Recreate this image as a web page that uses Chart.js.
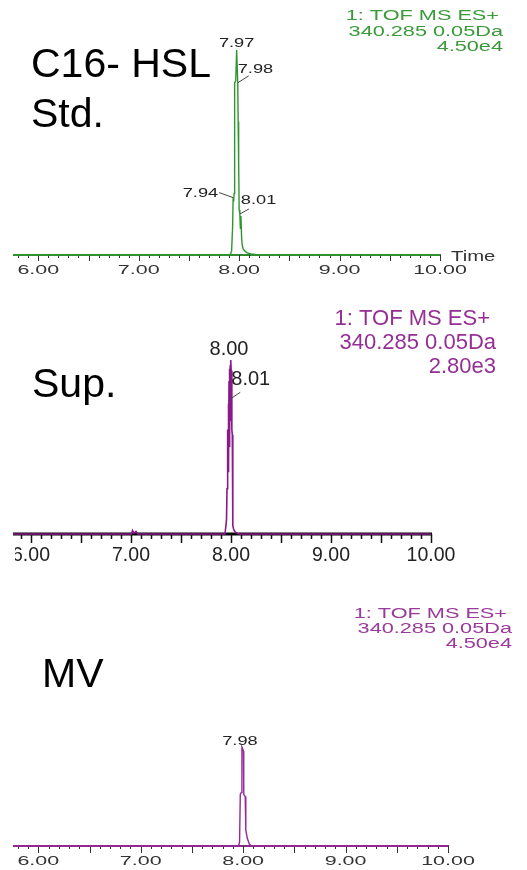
<!DOCTYPE html>
<html>
<head>
<meta charset="utf-8">
<script src="https://cdn.jsdelivr.net/npm/chart.js@4.4.1/dist/chart.umd.min.js"></script>
<style>
  html, body { margin: 0; padding: 0; background: #fff; }
  body { width: 527px; height: 870px; position: relative; overflow: hidden; }
  canvas { position: absolute; left: 0; }
</style>
</head>
<body>
<canvas id="std" width="527" height="290" style="top:0"></canvas>
<canvas id="sup" width="527" height="290" style="top:290px"></canvas>
<canvas id="mv" width="527" height="290" style="top:580px"></canvas>
<script>
'use strict';

// retention time (min) / relative intensity (% of the panel's full scale)
const stdTimes = [5.748, 7.5, 7.91, 7.925, 7.935, 7.94, 7.945, 7.95, 7.955, 7.966, 7.975, 7.986, 7.99,
  7.995, 8.0, 8.007, 8.012, 8.018, 8.024, 8.03, 8.04, 8.055, 8.08, 8.12, 8.2, 10.0];
const stdIntensity = [0, 0, 0, 2, 14, 28, 26, 30, 84, 85, 100, 84, 65,
  45, 22, 20, 13, 19, 9, 5, 3, 2, 1, 0.5, 0, 0];

const supTimes = [5.82, 7.005, 7.015, 7.03, 7.05, 7.07, 7.94, 7.955, 7.96, 7.965, 7.968, 7.971, 7.974,
  7.977, 7.98, 7.983, 7.986, 7.989, 7.992, 7.995, 8.0, 8.003, 8.007, 8.01, 8.013, 8.016, 8.02,
  8.025, 8.032, 8.045, 8.06, 8.08, 10.0];
const supIntensity = [0, 0, 2, 0.5, 1.5, 0, 0, 8, 26, 33, 60, 36, 75,
  40, 88, 50, 95, 55, 97, 65, 100, 92, 94, 60, 57, 30, 5,
  3, 2, 1, 0.5, 0, 0];

const mvTimes = [5.753, 7.955, 7.965, 7.972, 7.982, 7.988, 7.996, 8.003, 8.006, 8.02, 8.026, 8.04, 8.06, 8.085, 10.0];
const mvIntensity = [0, 0, 2, 26, 27, 50, 49, 48, 26, 25, 8, 4, 1, 0, 0];

// peak labels
const stdPeakText = ['7.94', '7.97', '7.98', '8.01'];
const stdPeakTime = [7.94, 7.975, 7.986, 8.007];
const stdPeakLevel = [28, 100, 84, 20];
const supPeakText = ['8.00', '8.01'];
const supPeakTime = [8.0, 8.003];
const supPeakLevel = [100, 78];
const mvPeakText = ['7.98'];
const mvPeakTime = [7.988];
const mvPeakLevel = [50];

// axis
const axisTickValues = [6, 7, 8, 9, 10];
const axisTickLabels = ['6.00', '7.00', '8.00', '9.00', '10.00'];
const headerLines = ['1: TOF MS ES+', '340.285 0.05Da'];
const stdFullScale = '4.50e4';
const supFullScale = '2.80e3';
const mvFullScale = '4.50e4';

const minorTicks = [];
for (let i = 58; i <= 100; i++) minorTicks.push(i / 10);

const FONT = '"Liberation Sans", Arial, sans-serif';

function drawText(ctx, str, x, y, size, sx, align, color) {
  ctx.save();
  ctx.translate(x, y);
  ctx.scale(sx, 1);
  ctx.font = size + 'px ' + FONT;
  ctx.fillStyle = color;
  ctx.textAlign = align;
  ctx.textBaseline = 'alphabetic';
  ctx.fillText(str, 0, 0);
  ctx.restore();
}

const chromPlugin = {
  id: 'chrom',
  beforeDatasetsDraw(chart, args, o) {
    const { ctx, chartArea } = chart;
    const x = chart.scales.x;
    const y0 = chartArea.bottom;
    ctx.save();
    ctx.strokeStyle = o.axisColor;
    ctx.lineWidth = o.axisWidth;
    ctx.beginPath();
    ctx.moveTo(chartArea.left, y0);
    ctx.lineTo(chartArea.right + 1, y0);
    ctx.stroke();

    ctx.strokeStyle = o.tickColor;
    ctx.lineWidth = o.tickWidth;
    ctx.beginPath();
    minorTicks.forEach(v => {
      if (v < x.min || v > x.max + 1e-9) return;
      const px = Math.round(x.getPixelForValue(v)) + 0.5;
      const major = Math.abs(v * 2 - Math.round(v * 2)) < 1e-6;
      ctx.moveTo(px, y0);
      ctx.lineTo(px, y0 + (major ? o.majorLen : o.minorLen));
    });
    ctx.stroke();

    ctx.save();
    ctx.beginPath();
    ctx.rect(o.labelClipLeft, 0, chart.width, chart.height);
    ctx.clip();
    axisTickValues.forEach((v, i) => {
      drawText(ctx, axisTickLabels[i], x.getPixelForValue(v), y0 + o.labelDy,
        o.tickFont, o.tickScale, 'center', o.tickTextColor);
    });
    ctx.restore();
    if (o.timeLabel) {
      drawText(ctx, 'Time', chartArea.right + 11, y0 + 6, o.tickFont + 1, 1.45, 'left', o.tickTextColor);
    }
    ctx.restore();
  },
  afterDatasetsDraw(chart, args, o) {
    const { ctx } = chart;
    const x = chart.scales.x;
    const y = chart.scales.y;
    ctx.save();
    // header block, top right
    const lines = headerLines.concat([o.fullScale]);
    lines.forEach((s, i) => {
      const rx = o.headerRight + (i === 0 ? o.headerFirstShift : 0);
      drawText(ctx, s, rx, o.headerTop + i * o.headerStep, o.headerFont, o.headerScale, 'right', o.textColor);
    });
    // sample name
    o.title.forEach((s, i) => {
      drawText(ctx, s, o.titleX, o.titleY + i * 50, 41, 1, 'left', '#000');
    });
    // peak labels
    o.peakText.forEach((s, i) => {
      const ax = x.getPixelForValue(o.peakTime[i]);
      const ay = y.getPixelForValue(o.peakLevel[i]);
      const l = o.peakLayout[i];
      if (l.lead) {
        ctx.strokeStyle = '#444';
        ctx.lineWidth = 1;
        ctx.beginPath();
        ctx.moveTo(ax, ay);
        ctx.lineTo(ax + l.lead[0], ay + l.lead[1]);
        ctx.stroke();
      }
      drawText(ctx, s, ax + l.dx, ay + l.dy, o.peakFont, o.peakScale, l.align, '#222');
    });
    ctx.restore();
  }
};

function makeChart(id, times, values, color, lineWidth, xMin, padding, opts) {
  return new Chart(document.getElementById(id).getContext('2d'), {
    type: 'line',
    data: {
      datasets: [{
        data: times.map((t, i) => ({ x: t, y: values[i] })),
        borderColor: color,
        borderWidth: lineWidth,
        pointRadius: 0,
        tension: 0,
        clip: false
      }]
    },
    options: {
      responsive: false,
      animation: false,
      devicePixelRatio: 1,
      layout: { padding: padding },
      scales: {
        x: { type: 'linear', min: xMin, max: 10, display: false },
        y: { min: 0, max: 100, display: false }
      },
      plugins: {
        legend: { display: false },
        tooltip: { enabled: false },
        chrom: opts
      }
    },
    plugins: [chromPlugin]
  });
}

makeChart('std', stdTimes, stdIntensity, '#2f962f', 1.4, 5.748,
  { left: 13, right: 87, top: 50, bottom: 35 }, {
    axisColor: '#2f8a2f', axisWidth: 2, tickColor: '#333', tickWidth: 1,
    minorLen: 3, majorLen: 6, labelDy: 19, labelClipLeft: 0,
    tickFont: 13, tickScale: 1.65, tickTextColor: '#333', timeLabel: true,
    fullScale: stdFullScale, headerRight: 503, headerFirstShift: -4, headerTop: 20, headerStep: 15.5,
    headerFont: 14, headerScale: 1.55, textColor: '#3a9a3a',
    title: ['C16- HSL', 'Std.'], titleX: 31, titleY: 77,
    peakText: stdPeakText, peakTime: stdPeakTime, peakLevel: stdPeakLevel,
    peakFont: 13, peakScale: 1.4,
    peakLayout: [
      { dx: -15, dy: -1, align: 'right', lead: [-14, -5] },
      { dx: 0, dy: -3, align: 'center' },
      { dx: 0, dy: -10, align: 'left', lead: [11, -7] },
      { dx: 1, dy: -10, align: 'left', lead: [9, -5] }
    ]
  });

makeChart('sup', supTimes, supIntensity, '#8a1a8a', 1.6, 5.82,
  { left: 13, right: 96, top: 70, bottom: 46 }, {
    axisColor: '#000', axisWidth: 3, tickColor: '#111', tickWidth: 1.5,
    minorLen: 5, majorLen: 9, labelDy: 27, labelClipLeft: 15,
    tickFont: 19.5, tickScale: 1, tickTextColor: '#222', timeLabel: false,
    fullScale: supFullScale, headerRight: 496, headerFirstShift: -6, headerTop: 35, headerStep: 24,
    headerFont: 22, headerScale: 1, textColor: '#952f95',
    title: ['Sup.'], titleX: 32, titleY: 107,
    peakText: supPeakText, peakTime: supPeakTime, peakLevel: supPeakLevel,
    peakFont: 20, peakScale: 1,
    peakLayout: [
      { dx: -2, dy: -5, align: 'center' },
      { dx: 0, dy: -13, align: 'left', lead: [9, -6] }
    ]
  });

makeChart('mv', mvTimes, mvIntensity, '#962a96', 1.4, 5.753,
  { left: 13, right: 79, top: 68, bottom: 24 }, {
    axisColor: '#8a2a8a', axisWidth: 2, tickColor: '#333', tickWidth: 1,
    minorLen: 3, majorLen: 7, labelDy: 19, labelClipLeft: 0,
    tickFont: 13, tickScale: 1.65, tickTextColor: '#333', timeLabel: false,
    fullScale: mvFullScale, headerRight: 512, headerFirstShift: -5, headerTop: 38, headerStep: 15,
    headerFont: 14, headerScale: 1.55, textColor: '#9a3a9a',
    title: ['MV'], titleX: 42, titleY: 107,
    peakText: mvPeakText, peakTime: mvPeakTime, peakLevel: mvPeakLevel,
    peakFont: 13, peakScale: 1.4,
    peakLayout: [
      { dx: -2, dy: -2, align: 'center' }
    ]
  });
</script>
</body>
</html>
